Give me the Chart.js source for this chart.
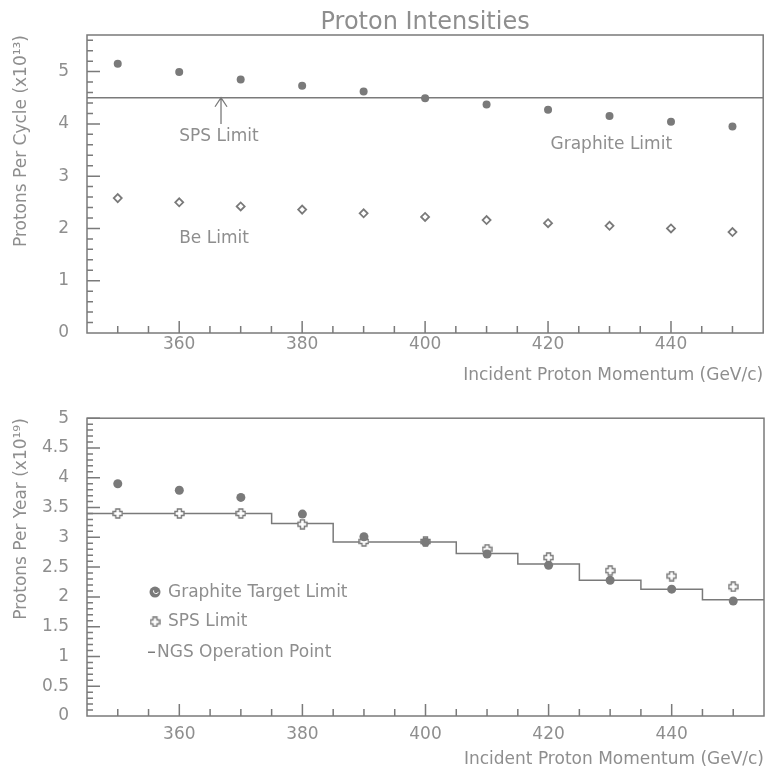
<!DOCTYPE html>
<html>
<head>
<meta charset="utf-8">
<title>Proton Intensities</title>
<script src="https://cdn.jsdelivr.net/npm/chart.js@4.4.0/dist/chart.umd.min.js"></script>
<style>
  html, body { margin: 0; padding: 0; background: #fff; }
  #wrap { position: relative; width: 769px; height: 770px; }
  #cycleChart { position: absolute; left: 0; top: 0; }
  #yearChart { position: absolute; left: 0; top: 390px; }
</style>
</head>
<body>
<div id="wrap">
  <canvas id="cycleChart" width="769" height="390"></canvas>
  <canvas id="yearChart" width="769" height="380"></canvas>
</div>
<script>
/* incident proton momentum (GeV/c) */
var momentum = [350, 360, 370, 380, 390, 400, 410, 420, 430, 440, 450];
var momentumTicks = [360, 380, 400, 420, 440];
var momentumMin = 345, momentumMax = 455;

/* top panel: protons per cycle (x10^13) */
var graphiteCycle = [5.15, 4.99, 4.85, 4.73, 4.62, 4.49, 4.37, 4.27, 4.15, 4.04, 3.95];
var beCycle = [2.58, 2.50, 2.42, 2.36, 2.29, 2.22, 2.16, 2.10, 2.05, 2.00, 1.93];
var spsCycle = 4.5;
var cycleTicks = [0, 1, 2, 3, 4, 5];

/* bottom panel: protons per year (x10^19) */
var graphiteYear = [3.90, 3.79, 3.67, 3.39, 3.01, 2.92, 2.72, 2.53, 2.28, 2.13, 1.93];
var spsYear = [3.40, 3.40, 3.40, 3.22, 2.93, 2.93, 2.80, 2.66, 2.44, 2.35, 2.17];
var ngsMomentum = [345, 350, 360, 370, 380, 390, 400, 410, 420, 430, 440, 450, 455];
var ngsYear = [3.40, 3.40, 3.40, 3.40, 3.23, 2.92, 2.92, 2.73, 2.55, 2.28, 2.13, 1.95, 1.95];
var yearTicks = [0, 0.5, 1, 1.5, 2, 2.5, 3, 3.5, 4, 4.5, 5];

var ink = '#7a7a7a';
var textInk = '#8e8e8e';
var family = '"DejaVu Sans", sans-serif';

function points(xs, ys) {
  return xs.map(function (x, i) { return { x: x, y: ys[i] }; });
}

// outlined plus, used as point style for the SPS limit
function plusOutline(size) {
  var c = document.createElement('canvas');
  c.width = size; c.height = size;
  var g = c.getContext('2d');
  var m = 1, a = size * 0.32, b = size * 0.68, e = size - 1;
  g.beginPath();
  g.moveTo(a, m); g.lineTo(b, m); g.lineTo(b, a); g.lineTo(e, a); g.lineTo(e, b);
  g.lineTo(b, b); g.lineTo(b, e); g.lineTo(a, e); g.lineTo(a, b); g.lineTo(m, b);
  g.lineTo(m, a); g.lineTo(a, a); g.closePath();
  g.fillStyle = '#fff'; g.fill();
  g.strokeStyle = ink; g.lineWidth = 1.4; g.stroke();
  return c;
}
var plusIcon = plusOutline(11);

// frame, inward ticks, notes and legend
var framePlugin = {
  id: 'plotFrame',
  afterDraw: function (chart, args, opts) {
    var ctx = chart.ctx, area = chart.chartArea;
    var xs = chart.scales.x, ys = chart.scales.y;
    ctx.save();
    ctx.strokeStyle = ink;
    ctx.lineWidth = 1.5;
    ctx.strokeRect(area.left, area.top, area.right - area.left, area.bottom - area.top);

    ctx.beginPath();
    for (var v = 350; v <= 450; v += 5) {
      var px = xs.getPixelForValue(v);
      ctx.moveTo(px, area.bottom);
      ctx.lineTo(px, area.bottom - (v % 20 === 0 ? 12 : 7));
    }
    var n = Math.round(opts.yTop / opts.yMinor);
    for (var i = 1; i <= n; i++) {
      var yv = i * opts.yMinor;
      var py = ys.getPixelForValue(yv);
      var r = yv / opts.yMajor;
      var major = Math.abs(r - Math.round(r)) < 1e-6;
      ctx.moveTo(area.left, py);
      ctx.lineTo(area.left + (major ? 13 : 6), py);
    }
    ctx.stroke();

    ctx.fillStyle = textInk;
    ctx.textBaseline = 'middle';
    ctx.textAlign = 'left';
    ctx.font = '17px ' + family;
    (opts.notes || []).forEach(function (t) {
      ctx.fillText(t.text, xs.getPixelForValue(t.x), ys.getPixelForValue(t.y));
    });

    (opts.arrows || []).forEach(function (a) {
      var ax = xs.getPixelForValue(a.x);
      var y0 = ys.getPixelForValue(a.from), y1 = ys.getPixelForValue(a.to);
      ctx.beginPath();
      ctx.lineWidth = 1.3;
      ctx.moveTo(ax, y0); ctx.lineTo(ax, y1);
      ctx.moveTo(ax - 6, y1 + 9); ctx.lineTo(ax, y1); ctx.lineTo(ax + 6, y1 + 9);
      ctx.stroke();
    });

    if (opts.title) {
      ctx.font = '24px ' + family;
      ctx.textAlign = 'center';
      ctx.textBaseline = 'alphabetic';
      ctx.fillText(opts.title, (area.left + area.right) / 2, 29);
    }

    if (opts.legend) {
      var lx = area.left + 68;
      ctx.font = '17px ' + family;
      ctx.textAlign = 'left';
      ctx.textBaseline = 'middle';
      opts.legend.forEach(function (item) {
        var ly = ys.getPixelForValue(item.y);
        if (item.icon === 'dot') {
          ctx.beginPath();
          ctx.fillStyle = ink;
          ctx.arc(lx, ly, 5.5, 0, Math.PI * 2);
          ctx.fill();
          ctx.beginPath();
          ctx.strokeStyle = '#fff';
          ctx.lineWidth = 1;
          ctx.arc(lx + 1, ly - 1, 2.5, 0.3, 3.5);
          ctx.stroke();
          ctx.fillStyle = textInk;
          ctx.fillText(item.text, lx + 13, ly);
        } else if (item.icon === 'plus') {
          ctx.drawImage(plusIcon, lx - 5.5, ly - 5.5);
          ctx.fillText(item.text, lx + 13, ly);
        } else {
          ctx.beginPath();
          ctx.strokeStyle = ink;
          ctx.lineWidth = 1.5;
          ctx.moveTo(lx - 7, ly); ctx.lineTo(lx, ly);
          ctx.stroke();
          ctx.fillText(item.text, lx + 2, ly);
        }
      });
    }
    ctx.restore();
  }
};

function xScale(height, labelGap, titleGap) {
  return {
    type: 'linear',
    min: momentumMin,
    max: momentumMax,
    afterBuildTicks: function (s) { s.ticks = momentumTicks.map(function (v) { return { value: v }; }); },
    afterFit: function (s) { s.height = height; },
    grid: { display: false, drawTicks: false },
    border: { display: false },
    ticks: { color: textInk, font: { family: family, size: 17 }, padding: labelGap, maxRotation: 0 },
    title: {
      display: true,
      text: 'Incident Proton Momentum (GeV/c)',
      align: 'end',
      color: textInk,
      font: { family: family, size: 17 },
      padding: { top: 0, bottom: titleGap }
    }
  };
}

function yScale(max, tickValues, label) {
  return {
    type: 'linear',
    min: 0,
    max: max,
    afterBuildTicks: function (s) { s.ticks = tickValues.map(function (v) { return { value: v }; }); },
    afterFit: function (s) { s.width = 87; },
    grid: { display: false, drawTicks: false },
    border: { display: false },
    ticks: {
      color: textInk,
      font: { family: family, size: 17 },
      padding: 18,
      callback: function (v) { return String(v); }
    },
    title: {
      display: true,
      text: label,
      align: 'end',
      color: textInk,
      font: { family: family, size: 17 },
      padding: { top: 11, bottom: 0 }
    }
  };
}

var cycleChart = new Chart(document.getElementById('cycleChart'), {
  type: 'scatter',
  data: {
    datasets: [{
      label: 'Graphite Limit',
      data: points(momentum, graphiteCycle),
      pointStyle: 'circle',
      pointRadius: 4,
      pointBackgroundColor: ink,
      pointBorderWidth: 0,
      order: 1
    }, {
      label: 'Be Limit',
      data: points(momentum, beCycle),
      pointStyle: 'rectRot',
      pointRadius: 4,
      pointBackgroundColor: '#fff',
      pointBorderColor: ink,
      pointBorderWidth: 1.8,
      order: 2
    }, {
      label: 'SPS Limit',
      data: points([momentumMin, momentumMax], [spsCycle, spsCycle]),
      showLine: true,
      borderColor: ink,
      borderWidth: 1.5,
      pointRadius: 0,
      order: 3
    }]
  },
  options: {
    responsive: false,
    animation: false,
    layout: { padding: { top: 35, right: 1, left: 0, bottom: 0 } },
    scales: {
      x: xScale(57, 1, 4),
      y: yScale(5.7, cycleTicks, 'Protons Per Cycle (x10\u00b9\u00b3)')
    },
    plugins: {
      legend: { display: false },
      tooltip: { enabled: false },
      plotFrame: {
        yTop: 5.6, yMinor: 0.2, yMajor: 1,
        title: 'Proton Intensities',
        notes: [
          { text: 'SPS Limit', x: 360, y: 3.75 },
          { text: 'Graphite Limit', x: 420.4, y: 3.6 },
          { text: 'Be Limit', x: 360, y: 1.81 }
        ],
        arrows: [{ x: 366.8, from: 4.0, to: 4.5 }]
      }
    }
  },
  plugins: [framePlugin]
});

var yearChart = new Chart(document.getElementById('yearChart'), {
  type: 'scatter',
  data: {
    datasets: [{
      label: 'Graphite Target Limit',
      data: points(momentum, graphiteYear),
      pointStyle: 'circle',
      pointRadius: 4.5,
      pointBackgroundColor: ink,
      pointBorderWidth: 0,
      order: 1
    }, {
      label: 'SPS Limit',
      data: points(momentum, spsYear),
      pointStyle: plusIcon,
      order: 2
    }, {
      label: 'NGS Operation Point',
      data: points(ngsMomentum, ngsYear),
      showLine: true,
      stepped: 'middle',
      borderColor: ink,
      borderWidth: 1.5,
      pointRadius: 0,
      order: 3
    }]
  },
  options: {
    responsive: false,
    animation: false,
    layout: { padding: { top: 28, right: 1, left: 0, bottom: 0 } },
    scales: {
      x: xScale(54, 8, 0),
      y: yScale(5, yearTicks, 'Protons Per Year (x10\u00b9\u2079)')
    },
    plugins: {
      legend: { display: false },
      tooltip: { enabled: false },
      plotFrame: {
        yTop: 5, yMinor: 0.1, yMajor: 0.5,
        legend: [
          { icon: 'dot', text: 'Graphite Target Limit', y: 2.08 },
          { icon: 'plus', text: 'SPS Limit', y: 1.58 },
          { icon: 'dash', text: 'NGS Operation Point', y: 1.07 }
        ]
      }
    }
  },
  plugins: [framePlugin]
});
</script>
</body>
</html>
